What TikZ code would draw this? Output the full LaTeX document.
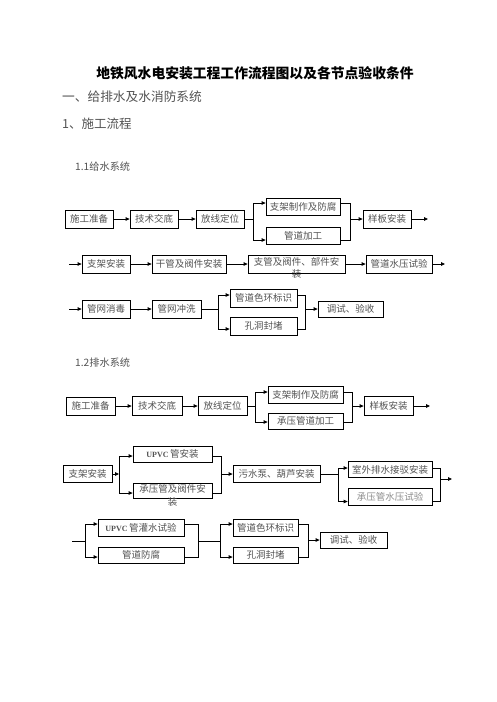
\documentclass[tikz,border=0pt]{standalone}
\usepackage{fontspec}
\newfontfamily\cjk{Noto Sans CJK SC}
\newfontfamily\latinb{Liberation Serif}
\usetikzlibrary{arrows.meta}
\tikzset{
  bx/.style={draw, line width=0.8pt, inner sep=0pt, font=\cjk\fontsize{9.5}{11}\selectfont, text=black!68},
  txt/.style={inner sep=0pt, font=\cjk\fontsize{9.5}{12.5}\selectfont, text=black!68},
  head/.style={inner sep=0pt, anchor=west, text=black!68},
  ln/.style={line width=0.8pt},
  ar/.style={line width=0.8pt, -{Triangle[length=4pt,width=3.6pt]}},
}
\newcommand{\upvc}{{\latinb\bfseries\fontsize{8}{10}\selectfont UPVC}\,}
\begin{document}
\begin{tikzpicture}[x=1pt,y=-1pt]
\useasboundingbox (0,0) rectangle (496,702);
% headings
\node[inner sep=0pt, font=\cjk\bfseries\fontsize{13.8}{16}\selectfont] (title) at (255,73) {地铁风水电安装工程工作流程图以及各节点验收条件};
\node[head, font=\cjk\fontsize{12.7}{15}\selectfont] (h1) at (62,97) {一、给排水及水消防系统};
\node[head, font=\cjk\fontsize{12.5}{15}\selectfont] (h2) at (62,124) {1、施工流程};
\node[head, font=\cjk\fontsize{10.2}{12}\selectfont] (h3) at (75,167) {1.1给水系统};
\node[head, font=\cjk\fontsize{10.2}{12}\selectfont] (h4) at (75,363) {1.2排水系统};

% ---------- Row 1 ----------
\node[bx, minimum width=48pt, minimum height=18pt] (a1) at (89,219) {施工准备};
\node[bx, minimum width=48pt, minimum height=18pt] (a2) at (154,219) {技术交底};
\node[bx, minimum width=48pt, minimum height=18pt] (a3) at (220,219) {放线定位};
\node[bx, minimum width=74pt, minimum height=17pt] (a4) at (303,206.5) {支架制作及防腐};
\node[bx, minimum width=74pt, minimum height=17pt] (a5) at (303,235.5) {管道加工};
\node[bx, minimum width=48pt, minimum height=18pt] (a6) at (387,219) {样板安装};
\coordinate (a1s) at (253,219);
\coordinate (a1m) at (350,219);
\coordinate (a1e) at (428,219);
\draw[ar] (a1) -- (a2);
\draw[ar] (a2) -- (a3);
\draw[ln] (a3) -- (a1s);
\draw[ar] (a1s) |- ([yshift=3.5pt]a4.west);
\draw[ar] (a1s) |- ([yshift=-4.5pt]a5.west);
\draw[ln] ([yshift=3.5pt]a4.east) -| (a1m);
\draw[ln] ([yshift=-4.5pt]a5.east) -| (a1m);
\draw[ar] (a1m) -- (a6);
\draw[ar] (a6) -- (a1e);

% ---------- Row 2 ----------
\coordinate (b0) at (69,264);
\node[bx, minimum width=48pt, minimum height=18pt] (b1) at (106,264) {支架安装};
\node[bx, minimum width=74pt, minimum height=18pt] (b2) at (189,264) {干管及阀件安装};
\node[bx, minimum width=97pt, minimum height=18pt] (b3) at (296.5,264) {};
\node[txt, anchor=north, align=center] (b3t) at ([yshift=-2.5pt]b3.north) {支管及阀件、部件安\\装};
\node[bx, minimum width=66pt, minimum height=18pt] (b4) at (399,264) {管道水压试验};
\coordinate (b5) at (445,264);
\draw[ar] (b0) -- (b1);
\draw[ar] (b1) -- (b2);
\draw[ar] (b2) -- (b3);
\draw[ar] (b3) -- (b4);
\draw[ar] (b4) -- (b5);

% ---------- Row 3 ----------
\coordinate (c0) at (69,309);
\node[bx, minimum width=48pt, minimum height=18pt] (c1) at (106,309) {管网消毒};
\node[bx, minimum width=49pt, minimum height=18pt] (c2) at (176.5,309) {管网冲洗};
\node[bx, minimum width=67pt, minimum height=18pt] (c3) at (263.5,298) {管道色环标识};
\node[bx, minimum width=67pt, minimum height=18pt] (c4) at (263.5,326) {孔洞封堵};
\node[bx, minimum width=65pt, minimum height=16pt] (c5) at (350.5,309) {调试、验收};
\coordinate (c2s) at (218,309);
\coordinate (c2m) at (305,309);
\draw[ar] (c0) -- (c1);
\draw[ar] (c1) -- (c2);
\draw[ln] (c2) -- (c2s);
\draw[ar] (c2s) |- ([yshift=3pt]c3.west);
\draw[ar] (c2s) |- ([yshift=-3pt]c4.west);
\draw[ln] ([yshift=3pt]c3.east) -| (c2m);
\draw[ln] ([yshift=-3pt]c4.east) -| (c2m);
\draw[ar] (c2m) -- (c5);

% ---------- Row 4 ----------
\node[bx, minimum width=49pt, minimum height=18pt] (d1) at (90.5,406) {施工准备};
\node[bx, minimum width=50pt, minimum height=19pt] (d2) at (157,406) {技术交底};
\node[bx, minimum width=49pt, minimum height=19pt] (d3) at (222.5,406) {放线定位};
\node[bx, minimum width=75pt, minimum height=17pt] (d4) at (305.5,394.5) {支架制作及防腐};
\node[bx, minimum width=75pt, minimum height=16pt] (d5) at (305.5,421) {承压管道加工};
\node[bx, minimum width=49pt, minimum height=19pt] (d6) at (388.5,406) {样板安装};
\coordinate (d3s) at (255,406);
\coordinate (d3m) at (352,406);
\coordinate (d7) at (430,406);
\draw[ar] (d1) -- (d2);
\draw[ar] (d2) -- (d3);
\draw[ln] (d3) -- (d3s);
\draw[ar] (d3s) |- ([yshift=2.5pt]d4.west);
\draw[ar] (d3s) |- ([yshift=-1pt]d5.west);
\draw[ln] ([yshift=2.5pt]d4.east) -| (d3m);
\draw[ln] ([yshift=-1pt]d5.east) -| (d3m);
\draw[ar] (d3m) -- (d6);
\draw[ar] (d6) -- (d7);

% ---------- Row 5 ----------
\node[bx, minimum width=49pt, minimum height=17pt] (e1) at (87.5,474) {支架安装};
\node[bx, minimum width=79pt, minimum height=16pt] (e2) at (172.5,454) {\upvc 管安装};
\node[bx, minimum width=79pt, minimum height=15pt] (e3) at (172.5,490.5) {};
\node[txt, anchor=north, align=center] (e3t) at ([yshift=-2pt]e3.north) {承压管及阀件安\\装};
\node[bx, minimum width=87pt, minimum height=17pt] (e4) at (276.5,474) {污水泵、葫芦安装};
\node[bx, minimum width=84pt, minimum height=16pt] (e5) at (390,469.5) {室外排水接驳安装};
\node[bx, minimum width=84pt, minimum height=17pt, text=black!45] (e6) at (390,497) {承压管水压试验};
\coordinate (e1s) at (119,474);
\coordinate (e2m) at (221,474);
\coordinate (e4s) at (338,474);
\coordinate (e5m) at (440,479);
\coordinate (e7) at (452,479);
\draw[ar] (e1) -- (e1s);
\draw[ar] (e1s) |- ([yshift=-2pt]e2.west);
\draw[ar] (e1s) |- ([yshift=-2.5pt]e3.west);
\draw[ln] ([yshift=-2pt]e2.east) -| (e2m);
\draw[ln] ([yshift=-2.5pt]e3.east) -| (e2m);
\draw[ar] (e2m) -- (e4);
\draw[ln] (e4) -- (e4s);
\draw[ar] (e4s) |- ([yshift=1.5pt]e5.west);
\draw[ar] (e4s) |- ([yshift=-4.5pt]e6.west);
\draw[ln] ([yshift=1.5pt]e5.east) -| (e5m);
\draw[ln] ([yshift=-4.5pt]e6.east) -| (e5m);
\draw[ar] (e5m) -- (e7);

% ---------- Row 6 ----------
\coordinate (f0) at (72,541);
\coordinate (f0s) at (85,541);
\node[bx, minimum width=86pt, minimum height=17pt] (f1) at (141,527.5) {\upvc 管灌水试验};
\node[bx, minimum width=86pt, minimum height=16pt] (f2) at (141,555) {管道防腐};
\node[bx, minimum width=65pt, minimum height=17pt] (f3) at (265.5,527.5) {管道色环标识};
\node[bx, minimum width=65pt, minimum height=16pt] (f4) at (265.5,555) {孔洞封堵};
\node[bx, minimum width=67pt, minimum height=16pt] (f5) at (353.5,540) {调试、验收};
\coordinate (f2m) at (198,541);
\coordinate (f3s) at (220,541);
\coordinate (f4m) at (308,540);
\draw[ln] (f0) -- (f0s);
\draw[ar] (f0s) |- ([yshift=3.5pt]f1.west);
\draw[ar] (f0s) |- ([yshift=-2pt]f2.west);
\draw[ln] ([yshift=3.5pt]f1.east) -| (f2m);
\draw[ln] ([yshift=-2pt]f2.east) -| (f2m);
\draw[ln] (f2m) -- (f3s);
\draw[ar] (f3s) |- ([yshift=3.5pt]f3.west);
\draw[ar] (f3s) |- ([yshift=-2pt]f4.west);
\draw[ln] ([yshift=3.5pt]f3.east) -| (f4m);
\draw[ln] ([yshift=-2pt]f4.east) -| (f4m);
\draw[ar] (f4m) -- (f5);
\end{tikzpicture}
\end{document}
